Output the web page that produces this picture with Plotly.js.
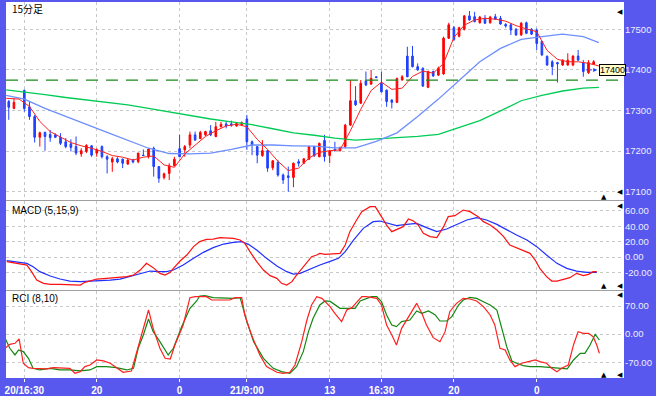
<!DOCTYPE html>
<html><head><meta charset="utf-8">
<script src="https://cdn.plot.ly/plotly-3.0.1.min.js"></script>
<style>html,body{margin:0;padding:0;background:#5858ee;}#chart{width:656px;height:396px;}</style>
</head><body><div id="chart"></div>
<script>
// ---- candle data (15-minute bars, index = bar slot) ----
const candleIdx = [0,1,3,4,5,6,7,8,9,10,11,12,13,14,15,16,17,18,19,20,21,22,23,24,25,26,27,28,29,30,31,32,33,34,35,36,37,38,39,40,41,42,43,44,45,46,47,48,49,50,51,52,53,54,55,56,57,58,59,60,61,62,63,64,65,66,67,68,69,70,71,72,73,74,75,76,77,78,79,80,81,82,83,84,85,86,87,88,89,90,91,92,93,94,95,96,97,98,99,100,101,102,103,104,105,106,107,108,109,110,111,112,113];
const openP  = [17322,17305,17349,17309,17285,17234,17246,17241,17240,17234,17223,17218,17211,17193,17199,17213,17195,17211,17186,17173,17181,17180,17168,17178,17174,17190,17186,17207,17162,17135,17145,17164,17206,17203,17215,17240,17231,17240,17250,17236,17260,17267,17267,17262,17265,17279,17223,17211,17189,17201,17159,17172,17141,17139,17135,17174,17170,17180,17211,17186,17226,17189,17204,17201,17211,17264,17324,17318,17373,17365,17383,17367,17350,17326,17320,17375,17434,17434,17408,17404,17357,17396,17387,17390,17478,17504,17483,17500,17533,17531,17516,17527,17516,17531,17527,17512,17511,17500,17486,17516,17500,17498,17470,17433,17420,17418,17412,17412,17412,17434,17418,17393,17414];
const highP  = [17326,17330,17352,17322,17289,17248,17248,17252,17244,17244,17232,17229,17236,17207,17217,17215,17207,17214,17190,17186,17185,17182,17181,17181,17196,17204,17207,17211,17163,17147,17170,17186,17240,17215,17248,17248,17250,17250,17264,17272,17272,17273,17275,17270,17273,17289,17226,17213,17227,17203,17178,17178,17145,17162,17172,17180,17182,17213,17213,17221,17240,17203,17223,17211,17267,17375,17360,17375,17396,17400,17384,17396,17352,17327,17381,17387,17457,17459,17416,17406,17398,17398,17408,17482,17516,17508,17506,17535,17545,17543,17533,17535,17533,17538,17533,17515,17515,17503,17518,17519,17503,17502,17472,17436,17424,17420,17426,17441,17436,17449,17424,17424,17424];
const lowP   = [17277,17303,17297,17277,17221,17211,17201,17223,17232,17215,17207,17199,17190,17186,17195,17186,17186,17182,17145,17149,17170,17158,17166,17170,17170,17189,17182,17137,17122,17130,17129,17162,17185,17186,17207,17226,17229,17237,17237,17234,17258,17256,17260,17260,17262,17203,17190,17170,17186,17149,17153,17137,17119,17100,17111,17162,17168,17178,17186,17185,17174,17170,17199,17199,17207,17262,17311,17316,17360,17363,17380,17344,17309,17305,17318,17374,17382,17406,17398,17359,17355,17383,17385,17388,17476,17471,17480,17497,17521,17517,17514,17513,17514,17523,17511,17504,17486,17484,17484,17488,17486,17449,17434,17410,17387,17369,17410,17410,17409,17423,17383,17390,17412];
const closeP = [17308,17320,17305,17285,17234,17245,17236,17233,17234,17219,17211,17209,17195,17201,17214,17190,17203,17186,17180,17181,17173,17170,17178,17173,17195,17189,17205,17162,17133,17144,17164,17180,17186,17211,17240,17227,17246,17248,17240,17260,17266,17262,17264,17268,17270,17223,17215,17190,17201,17158,17176,17141,17129,17135,17170,17170,17181,17211,17188,17219,17186,17200,17201,17209,17264,17324,17314,17367,17363,17379,17381,17346,17322,17320,17379,17383,17383,17408,17400,17360,17396,17385,17404,17478,17511,17475,17504,17533,17523,17519,17530,17515,17530,17525,17513,17508,17498,17486,17515,17490,17488,17465,17437,17412,17408,17415,17424,17424,17434,17424,17396,17418,17420];

// ---- moving averages ----
const maRedX = [-0.5,2,4,6,8,10,12,14,16,18,20,22,24,26,28,30,32,34,36,38,40,42,44,46,48,50,52,54,56,58,60,62,64,66,68,70,72,74,76,78,80,82,84,86,88,90,92,94,96,98,100,102,104,106,108,110,112,114];
const maRed  = [17330,17328,17310,17273,17248,17234,17221,17213,17207,17199,17189,17185,17178,17185,17188,17166,17160,17193,17214,17236,17250,17262,17266,17260,17229,17204,17175,17152,17158,17183,17197,17201,17203,17250,17303,17349,17370,17352,17355,17384,17397,17392,17416,17480,17510,17523,17527,17525,17520,17509,17501,17494,17448,17426,17420,17420,17416,17410];
const maLongX = [-0.5,3,7,11,15,19,23,27,31,35,39,43,47,51,55,59,63,67,71,75,79,83,87,91,95,99,103,107,111,114];
const maBlue  = [17337,17328,17305,17286,17266,17246,17227,17207,17194,17193,17195,17204,17215,17215,17213,17212,17208,17208,17224,17245,17285,17328,17374,17420,17453,17475,17482,17488,17482,17467];
const maGreen = [17351,17346,17339,17332,17326,17320,17314,17305,17296,17288,17279,17272,17265,17255,17245,17239,17232,17227,17230,17232,17236,17241,17258,17275,17299,17324,17337,17348,17355,17357];
const resistance = 17375;
const lastPrice = 17400;

// ---- MACD (5,15,9): [bar, value] ----
const macdLine = [[-0.4,-5.9],[0.9,-7.2],[2.2,-8.1],[3.5,-10.3],[4.4,-18.9],[5.4,-29.8],[6.7,-34.1],[8,-35.4],[9.9,-35.4],[11.8,-36.3],[13.8,-36.3],[14.7,-32.8],[15.7,-31.1],[17,-28.5],[18.9,-27.6],[20.8,-26.7],[22.8,-25.4],[24.1,-23.3],[25.4,-16.8],[26.6,-8.1],[27.9,-13.7],[29.2,-21.1],[30.2,-23.3],[31.2,-19.8],[31.8,-14.6],[33.1,-5.1],[34.4,2.7],[35.7,13.6],[36.9,20.1],[38.2,23.1],[39.5,23.5],[40.8,25.3],[42.1,25.3],[43.4,24.4],[44.7,22.2],[45.6,17.9],[46.6,7.1],[47.9,-5.9],[49.2,-16.8],[50.5,-24.1],[51.8,-27.6],[52.7,-34.1],[53.7,-36.3],[54.7,-31.9],[55.6,-23.3],[56.6,-14.6],[57.6,-5.9],[58.5,0.6],[59.5,2.7],[60.1,4.9],[61.1,3.6],[62.1,4.2],[64,4.9],[65,15.7],[65.9,33.1],[67.2,48.2],[68.2,59.1],[69.8,65.6],[70.8,65.6],[72,52.6],[73,41.7],[74,33.1],[74.9,36.1],[76.2,39.6],[77.2,49.5],[78.2,46.9],[79.1,41.7],[80.1,30.9],[81.4,26.6],[82.7,25.3],[84,39.6],[84.9,52.6],[86.2,53.9],[87.8,61.2],[89.1,59.1],[90.7,52.6],[91.7,46.1],[93,41.7],[94.3,35.2],[95.6,26.6],[96.8,15.7],[98.1,12.3],[99.4,9.2],[100.7,4.9],[101.7,-3.8],[102.6,-14.6],[103.9,-25.4],[104.9,-31.1],[105.9,-31.1],[107.1,-28.9],[108.4,-26.7],[109.7,-21.1],[111,-24.1],[112,-22.4],[112.9,-18.9],[113.6,-18.9]];
const macdSignal = [[-0.4,-4.6],[0.9,-5.9],[2.2,-6.8],[3.5,-8.1],[4.7,-12.4],[6,-18.9],[8,-24.6],[9.9,-28.5],[11.8,-31.1],[13.8,-31.9],[15.7,-31.1],[17.6,-30.6],[19.6,-29.8],[21.5,-28.5],[23.4,-25.4],[25.4,-22],[27.3,-18.1],[29.2,-18.9],[30.5,-18.9],[31.8,-16.8],[33.7,-10.3],[35.7,-1.6],[37.6,6.2],[39.5,12.3],[41.5,17],[43.4,19.2],[45,20.1],[46.3,16.6],[47.9,9.2],[49.8,-1.6],[51.8,-11.6],[53.7,-18.9],[55,-22],[56.3,-21.1],[58.2,-15.5],[60.1,-10.3],[62.1,-5.5],[63.7,-1.6],[65,7.1],[66.6,22.2],[68.5,37.4],[70.4,46.1],[71.7,46.9],[73.3,43.9],[74.9,40.9],[76.9,42.6],[78.8,43.9],[80.7,38.3],[82.7,33.1],[84.6,36.5],[86.5,41.7],[88.5,48.2],[90.4,51.2],[92.3,48.2],[94.3,42.6],[96.2,35.2],[98.1,28.7],[100.1,22.2],[102,13.6],[103.9,2.7],[105.9,-8.1],[107.8,-14.6],[109.7,-18.1],[111.7,-19.8],[113.6,-19.8]];

// ---- RCI (8,10): [bar, value] ----
const rciShort = [[-0.7,-35.2],[0.2,-25.3],[1.2,-22.8],[2,-12],[2.8,-72.5],[3.8,-83.3],[4.7,-85],[6,-85],[7.3,-86.6],[8.6,-83.3],[10.5,-83.3],[11.8,-85],[12.8,-97.4],[13.8,-93.3],[14.7,-80.8],[15.7,-76.7],[17,-64.3],[18.3,-66.7],[19.6,-72.5],[20.5,-80.8],[22.1,-94.9],[23.7,-91.6],[24.7,-43.5],[25.7,-2.1],[27,60.1],[27.9,14.5],[29.2,-35.2],[30.2,-60.1],[31.2,-61.8],[32.1,-26.9],[33.7,22.8],[35,90.8],[36,93.3],[36.9,93.3],[38.2,93.3],[39.2,85],[40.8,85],[42.7,85],[43.7,90.8],[45,90.8],[45.6,47.7],[46.9,-2.1],[48.5,-51.8],[49.8,-80.8],[51.8,-94.9],[53,-97.4],[54.3,-94.9],[55.3,-76.7],[56.6,-18.7],[57.6,35.2],[58.5,72.5],[59.5,93.3],[60.5,89.1],[62.1,68],[63,51.8],[64.3,31.1],[65.3,60.1],[66.3,65.9],[67.2,79.2],[68.2,93.3],[69.1,93.3],[70.1,90.8],[71.1,89.1],[72,72.5],[73,22.8],[74,-2.1],[74.9,-26.9],[75.9,14.5],[77.5,47.7],[78.8,76.7],[79.8,51.8],[80.7,22.8],[82,-8.7],[83.3,-18.7],[84.3,6.2],[85.2,55.9],[86.5,76.7],[87.8,89.1],[89.1,87.4],[90.4,82.5],[91.7,68.4],[93,47.7],[93.9,22.8],[94.9,-35.2],[95.9,-39.4],[96.8,-64.3],[97.8,-80.8],[99.1,-72.5],[100.4,-68.4],[101.7,-64.3],[102.6,-68.4],[103.9,-72.5],[104.9,-85],[105.9,-93.3],[106.8,-85],[108.1,-76.7],[109.1,-26.9],[110,6.2],[111,2.1],[112,2.1],[112.9,-6.2],[113.6,-26.9],[114.1,-47.7]];
const rciLong = [[-0.7,-10.4],[0.2,-35.2],[1.2,-51.8],[1.9,-39.4],[2.8,-43.5],[3.8,-60.1],[4.7,-85],[6,-89.1],[8,-85],[9.9,-89.1],[11.8,-89.1],[13.8,-91.6],[15.7,-89.1],[17,-80.8],[18.9,-80.8],[20.8,-83.3],[22.8,-89.1],[24.1,-85],[25,-35.2],[26,-2.1],[27,37.7],[27.9,6.2],[29.2,-18.7],[30.8,-51.8],[31.8,-35.2],[33.4,18.6],[35,64.2],[36.3,82.5],[36.9,94.9],[37.9,95.7],[39.5,90.8],[41.5,89.1],[43.4,89.1],[44.7,90.8],[46,31.1],[47.3,-18.7],[49.2,-60.1],[51.1,-85],[52.7,-93.3],[54.3,-97.4],[55.6,-80.8],[56.9,-43.5],[57.9,6.2],[58.8,39.4],[60.1,72.5],[61.1,82.5],[62.1,81.5],[64,64.2],[65.3,64.2],[66.9,64.2],[67.9,82.5],[68.8,87.4],[70.1,93.3],[71.1,93.3],[72,80.8],[73,47.7],[74,22.8],[74.9,18.7],[75.9,31.1],[77.5,35.2],[78.8,57.6],[79.8,51.8],[81.1,57.6],[82.4,47.7],[83.3,32.7],[84.6,32.7],[85.6,43.5],[86.9,72.5],[87.8,85],[89.1,91.6],[90.4,89.1],[91.7,80.8],[93,72.5],[94.3,60.1],[95.2,14.5],[96.2,-31.1],[97.2,-66.7],[98.1,-72.5],[99.4,-78.3],[100.7,-80.8],[102.6,-80.8],[104.6,-83.3],[106.5,-86.6],[107.9,-86.6],[109.1,-64.3],[110.4,-47.7],[111.3,-47.7],[112.3,-26.9],[113.3,-0.4],[114.1,-14.5]];

// ---- axis labels ----
const timeTickVals = [3,17,33,46,62,72,86,102];
const timeTickText = ['20/16:30','20','0','21/9:00','13','16:30','20','0'];
const priceTicks = [17100,17200,17300,17400,17500];
const macdTicks = [60,40,20,0,-20];
const macdTickText = ['60.00','40.00','20.00','0.00','-20.00'];
const rciTicks = [70,0,-70];
const rciTickText = ['70.00','0.00','-70.00'];

// ---- layout helpers (pixel -> paper) ----
const W = 656, H = 396;
const px = v => v / W;
const py = v => (H - v) / H;
const BG = '#5858ee';
const GRID = '#c8c8c8';
const col = (arr, k) => arr.map(p => p[k]);

const traces = [
  {type:'scatter', mode:'lines', x:maLongX, y:maGreen, line:{color:'#00cc55', width:1.3}, xaxis:'x', yaxis:'y', hoverinfo:'skip'},
  {type:'scatter', mode:'lines', x:maLongX, y:maBlue, line:{color:'#6d8fff', width:1.3}, xaxis:'x', yaxis:'y', hoverinfo:'skip'},
  {type:'candlestick', x:candleIdx, open:openP, high:highP, low:lowP, close:closeP, xaxis:'x', yaxis:'y',
   increasing:{line:{color:'#ff0000', width:1}, fillcolor:'#ff0000'},
   decreasing:{line:{color:'#2040ff', width:1}, fillcolor:'#2040ff'}, hoverinfo:'skip'},
  {type:'scatter', mode:'lines', x:maRedX, y:maRed, line:{color:'#ff2020', width:1}, xaxis:'x', yaxis:'y', hoverinfo:'skip'},
  {type:'scatter', mode:'lines', x:col(macdSignal,0), y:col(macdSignal,1), line:{color:'#1f2fff', width:1.2}, xaxis:'x', yaxis:'y2', hoverinfo:'skip'},
  {type:'scatter', mode:'lines', x:col(macdLine,0), y:col(macdLine,1), line:{color:'#ff1010', width:1.2}, xaxis:'x', yaxis:'y2', hoverinfo:'skip'},
  {type:'scatter', mode:'lines', x:col(rciLong,0), y:col(rciLong,1), line:{color:'#118811', width:1.2}, xaxis:'x', yaxis:'y3', hoverinfo:'skip'},
  {type:'scatter', mode:'lines', x:col(rciShort,0), y:col(rciShort,1), line:{color:'#ff2020', width:1.2}, xaxis:'x', yaxis:'y3', hoverinfo:'skip'}
];

const yLabelFont = {family:'Liberation Sans, Arial, sans-serif', size:9.5, color:'#eeeeff'};
const yCommon = {side:'right', anchor:'x', showgrid:true, gridcolor:GRID, griddash:'dot', gridwidth:1,
  zeroline:false, showline:false, ticks:'', tickfont:yLabelFont, fixedrange:true};

const tri = (x, y, t) => ({xref:'paper', yref:'paper', x:px(x), y:py(y), text:t, showarrow:false,
  font:{family:'DejaVu Sans', size:7, color:'#000'}, xanchor:'center', yanchor:'middle'});
const title = (x, y, t, fam) => ({xref:'paper', yref:'paper', x:px(x), y:py(y), text:t, showarrow:false,
  font:{family:fam, size:10, color:'#000'}, xanchor:'left', yanchor:'middle'});

const layout = {
  width:W, height:H, margin:{l:0, r:0, t:0, b:0},
  paper_bgcolor:BG, plot_bgcolor:'#ffffff', showlegend:false, boxgap:0.55,
  xaxis:{domain:[px(6), px(624)], range:[-0.535, 118.86], anchor:'y3',
    tickmode:'array', tickvals:timeTickVals, ticktext:timeTickText,
    tickfont:{family:'Liberation Sans, Arial, sans-serif', size:10, color:'#ffffff', weight:'bold'},
    ticks:'outside', ticklen:3, tickcolor:'#ffffff',
    showgrid:true, gridcolor:GRID, griddash:'dot', zeroline:false, showline:false,
    rangeslider:{visible:false}, fixedrange:true},
  yaxis:Object.assign({}, yCommon, {domain:[py(200.5), py(2)], range:[17078.3, 17567.2],
    tickmode:'array', tickvals:priceTicks, ticktext:priceTicks.map(String)}),
  yaxis2:Object.assign({}, yCommon, {domain:[py(290.5), py(200.5)], range:[-43.4, 73.6],
    tickmode:'array', tickvals:macdTicks, ticktext:macdTickText}),
  yaxis3:Object.assign({}, yCommon, {domain:[py(378), py(290.5)], range:[-109.1, 108.6],
    tickmode:'array', tickvals:rciTicks, ticktext:rciTickText}),
  shapes:[
    {type:'line', xref:'paper', yref:'y', x0:px(6), x1:px(624), y0:resistance, y1:resistance,
      line:{color:'#1a8a1a', width:1.3, dash:'12px,8px'}},
    {type:'line', xref:'paper', yref:'paper', x0:px(6), x1:px(624), y0:py(200.5), y1:py(200.5), line:{color:'#a0a0a0', width:1}},
    {type:'line', xref:'paper', yref:'paper', x0:px(6), x1:px(624), y0:py(290.5), y1:py(290.5), line:{color:'#a0a0a0', width:1}},
    {type:'line', xref:'paper', yref:'y', x0:px(586), x1:px(592), y0:lastPrice, y1:lastPrice, line:{color:'#2040ff', width:1, dash:'2px,2px'}}
  ],
  annotations:[
    title(10, 9, '15分足', 'Noto Sans CJK JP'),
    title(10, 210, 'MACD (5,15,9)', 'Liberation Sans, Arial, sans-serif'),
    title(10, 298, 'RCI (8,10)', 'Liberation Sans, Arial, sans-serif'),
    {xref:'paper', yref:'y', x:px(594.5), y:lastPrice, text:'▸', showarrow:false,
      font:{family:'DejaVu Sans', size:8, color:'#2040ff'}, xanchor:'center', yanchor:'middle'},
    {xref:'paper', yref:'y', x:px(625.5), y:lastPrice, text:String(lastPrice), showarrow:false,
      font:{family:'Liberation Sans, Arial, sans-serif', size:9, color:'#000'},
      bgcolor:'#ffffcc', bordercolor:'#000000', borderwidth:1, borderpad:0, xanchor:'right', yanchor:'middle'},
    tri(619.5, 12, '◀'), tri(603.5, 196.5, '▲'), tri(619.5, 192, '◀'),
    tri(619.5, 206, '◀'), tri(603.5, 286, '▲'), tri(619.5, 286, '◀'),
    tri(619.5, 295, '◀'), tri(603.5, 374.5, '▲'), tri(619.5, 374.5, '◀')
  ]
};

Plotly.newPlot('chart', traces, layout, {staticPlot:true, displayModeBar:false});
</script>
</body></html>
